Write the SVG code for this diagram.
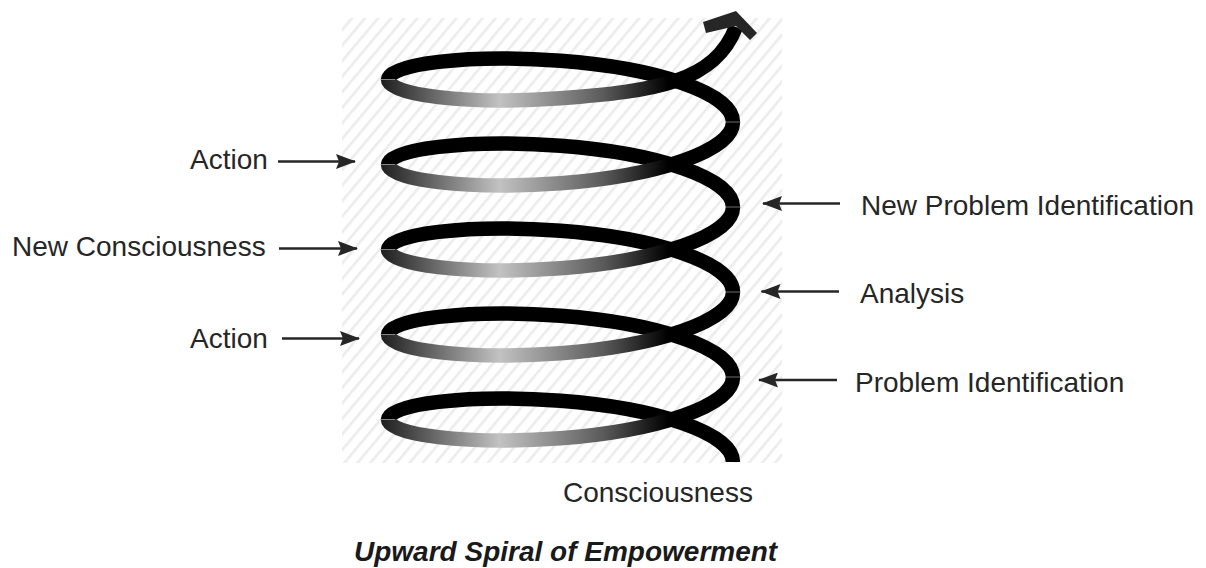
<svg xmlns="http://www.w3.org/2000/svg" width="1206" height="568" viewBox="0 0 1206 568">
<style>
.lbl{font-family:"Liberation Sans",Arial,sans-serif;font-size:28px;fill:#262626}
.title{font-family:"Liberation Sans",Arial,sans-serif;font-size:28px;font-weight:bold;font-style:italic;fill:#1a1a1a}
.back{fill:none;stroke:#000;stroke-width:14.5}
.front{fill:none;stroke:url(#shade);stroke-width:14.5}
.seam{stroke:#9a9a9a;stroke-width:1;opacity:0.7}
.conn{fill:none;stroke:#262626;stroke-width:2.6}
</style>
<defs>
<pattern id="hatch" width="10" height="10" patternUnits="userSpaceOnUse" patternTransform="rotate(40)">
<rect x="0" y="0" width="2.6" height="10" fill="#ececec"/>
</pattern>
<linearGradient id="shade" gradientUnits="userSpaceOnUse" x1="381" y1="0" x2="740" y2="0">
<stop offset="0" stop-color="#1e1e1e"/>
<stop offset="0.33" stop-color="#c2c2c2"/>
<stop offset="0.62" stop-color="#5a5a5a"/>
<stop offset="0.8" stop-color="#000"/>
<stop offset="1" stop-color="#000"/>
</linearGradient>
<marker id="ah" markerWidth="20" markerHeight="15" refX="19" refY="7.5" orient="auto" markerUnits="userSpaceOnUse">
<path d="M0,0 L20,7.5 L0,15 L3,7.5 z" fill="#262626"/>
</marker>
</defs>
<rect x="342" y="18" width="440" height="445" fill="url(#hatch)"/>
<g id="spiral">
<path class="back" d="M733 462 C733 432.83 655.77 407.83 560.5 400.75 C465.23 393.67 388 404.49 388 419.5"/>
<path class="back" d="M733 377 C733 347.83 655.77 322.83 560.5 315.75 C465.23 308.67 388 319.49 388 334.5"/>
<path class="back" d="M733 292 C733 262.83 655.77 237.83 560.5 230.75 C465.23 223.67 388 234.49 388 249.5"/>
<path class="back" d="M733 207 C733 177.83 655.77 152.83 560.5 145.75 C465.23 138.67 388 149.49 388 164.5"/>
<path class="back" d="M733 122 C733 92.83 655.77 67.83 560.5 60.75 C465.23 53.67 388 64.49 388 79.5"/>
<path class="front" d="M388 419.5 C388 434.51 465.23 445.33 560.5 438.25 C655.77 431.17 733 406.17 733 377"/>
<path class="front" d="M388 334.5 C388 349.51 465.23 360.33 560.5 353.25 C655.77 346.17 733 321.17 733 292"/>
<path class="front" d="M388 249.5 C388 264.51 465.23 275.33 560.5 268.25 C655.77 261.17 733 236.17 733 207"/>
<path class="front" d="M388 164.5 C388 179.51 465.23 190.33 560.5 183.25 C655.77 176.17 733 151.17 733 122"/>
<path class="front" d="M388 79.5 C388 94.51 465.23 105.33 560.5 98.25 C655.8 91.2 715 82 736 27"/>
<polygon points="703,22 736,11 757,33 750,40 736,26 706,33" fill="#262626"/>
<g class="seam">
<line x1="381" y1="419.5" x2="395" y2="419.5"/>
<line x1="381" y1="334.5" x2="395" y2="334.5"/>
<line x1="381" y1="249.5" x2="395" y2="249.5"/>
<line x1="381" y1="164.5" x2="395" y2="164.5"/>
<line x1="381" y1="79.5" x2="395" y2="79.5"/>
<line x1="726" y1="377" x2="740" y2="377"/>
<line x1="726" y1="292" x2="740" y2="292"/>
<line x1="726" y1="207" x2="740" y2="207"/>
<line x1="726" y1="122" x2="740" y2="122"/>
</g>
</g>
<g id="connectors">
<line class="conn" x1="278" y1="161.5" x2="355" y2="161.5" marker-end="url(#ah)"/>
<line class="conn" x1="279" y1="248.5" x2="357" y2="248.5" marker-end="url(#ah)"/>
<line class="conn" x1="282" y1="338.5" x2="359" y2="338.5" marker-end="url(#ah)"/>
<line class="conn" x1="840" y1="203.5" x2="763" y2="203.5" marker-end="url(#ah)"/>
<line class="conn" x1="839" y1="291.5" x2="761.5" y2="291.5" marker-end="url(#ah)"/>
<line class="conn" x1="837" y1="380" x2="759" y2="380" marker-end="url(#ah)"/>
</g>
<g id="label-action-top"><text class="lbl" x="190" y="169">Action</text></g>
<g id="label-new-consciousness"><text class="lbl" x="12" y="256">New Consciousness</text></g>
<g id="label-action-bottom"><text class="lbl" x="190" y="348">Action</text></g>
<g id="label-new-problem-identification"><text class="lbl" x="861" y="215">New Problem Identification</text></g>
<g id="label-analysis"><text class="lbl" x="860" y="303">Analysis</text></g>
<g id="label-problem-identification"><text class="lbl" x="855" y="392">Problem Identification</text></g>
<g id="label-consciousness"><text class="lbl" x="563" y="502">Consciousness</text></g>
<g id="title"><text class="title" x="354" y="561">Upward Spiral of Empowerment</text></g>
</svg>
